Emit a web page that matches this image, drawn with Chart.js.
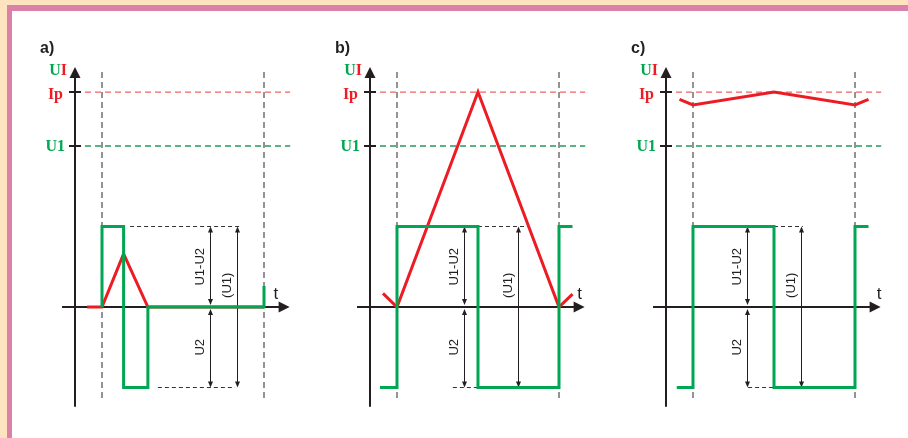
<!DOCTYPE html>
<html>
<head>
<meta charset="utf-8">
<script src="https://cdn.jsdelivr.net/npm/chart.js@4.4.1/dist/chart.umd.min.js"></script>
<style>
  html, body { margin: 0; padding: 0; }
  body { width: 908px; height: 438px; background: #fde3c0; position: relative; overflow: hidden; }
  #frame { position: absolute; left: 7px; top: 5px; right: 0; bottom: 0; background: #fff;
           border-left: 5px solid #db80a8; border-top: 6px solid #db80a8; }
  canvas { position: absolute; top: 30px; }
</style>
</head>
<body>
<div id="frame"></div>
<canvas id="panelA" width="275" height="400" style="left:30px"></canvas>
<canvas id="panelB" width="275" height="400" style="left:325px"></canvas>
<canvas id="panelC" width="275" height="400" style="left:621px"></canvas>
<script>
// Reference levels (U1 = 2, so the square wave swings between +1 and -1)
const levelNames = ['Ip', 'U1'];
const levelValues = [2.67, 2];
const switchTimes = [1, 7];

// a) short pulse
const timeA_U = [1, 1, 1.8, 1.8, 2.7, 2.7, 7, 7];
const voltA_U = [0, 1, 1, -1, -1, 0, 0, 0.26];
const timeA_I = [0.45, 1, 1.8, 2.7, 7];
const currA_I = [0, 0, 0.66, 0, 0];

// b) boundary mode
const timeB_U = [0.37, 1, 1, 4, 4, 7, 7, 7.5];
const voltB_U = [-1, -1, 1, 1, -1, -1, 1, 1];
const timeB_I = [0.48, 1, 4, 7, 7.5];
const currB_I = [0.17, 0, 2.67, 0, 0.16];

// c) continuous current
const timeC_U = [0.4, 1, 1, 4, 4, 7, 7, 7.5];
const voltC_U = [-1, -1, 1, 1, -1, -1, 1, 1];
const timeC_I = [0.5, 1, 4, 7, 7.5];
const currC_I = [2.58, 2.51, 2.67, 2.51, 2.58];

const dimLabels = ['U1-U2', 'U2', '(U1)'];

const GREEN = '#00a651', RED = '#ed1c24', INK = '#231f20';

function pts(ts, vs) { return ts.map((t, i) => ({ x: t, y: vs[i] })); }

function arrowHead(ctx, x, y, dir, len, half) {
  // dir: 'up' | 'down' | 'right'
  ctx.beginPath();
  if (dir === 'up') { ctx.moveTo(x, y); ctx.lineTo(x - half, y + len); ctx.lineTo(x + half, y + len); }
  else if (dir === 'down') { ctx.moveTo(x, y); ctx.lineTo(x - half, y - len); ctx.lineTo(x + half, y - len); }
  else { ctx.moveTo(x, y); ctx.lineTo(x - len, y - half); ctx.lineTo(x - len, y + half); }
  ctx.closePath();
  ctx.fill();
}

const diagramPlugin = {
  id: 'diagram',
  beforeDatasetsDraw(chart) {
    const { ctx, scales: { x, y } } = chart;
    const d = chart.options.plugins.diagram;
    const X = v => x.getPixelForValue(v), Y = v => y.getPixelForValue(v);
    ctx.save();

    // reference levels
    ctx.lineWidth = 1.3;
    ctx.setLineDash([6, 4]);
    ['#ee6464', '#259a58'].forEach((c, i) => {
      ctx.strokeStyle = c;
      ctx.beginPath();
      ctx.moveTo(X(0), Y(levelValues[i]));
      ctx.lineTo(X(7.97), Y(levelValues[i]));
      ctx.stroke();
    });

    // switching instants
    ctx.strokeStyle = '#666';
    ctx.lineWidth = 1.4;
    ctx.setLineDash([6, 4]);
    switchTimes.forEach(t => {
      ctx.beginPath();
      ctx.moveTo(X(t), Y(2.92));
      ctx.lineTo(X(t), Y(-1.13));
      ctx.stroke();
    });

    // dimension extension lines
    ctx.strokeStyle = '#333';
    ctx.lineWidth = 1;
    ctx.setLineDash([4, 3]);
    ctx.beginPath();
    ctx.moveTo(X(d.topDash[0]), Y(1)); ctx.lineTo(X(d.topDash[1]), Y(1));
    ctx.moveTo(X(d.botDash[0]), Y(-1)); ctx.lineTo(X(d.botDash[1]), Y(-1));
    ctx.stroke();
    ctx.setLineDash([]);

    // dimension arrows
    ctx.fillStyle = INK;
    ctx.strokeStyle = INK;
    ctx.lineWidth = 1;
    const ax1 = Math.round(X(d.arrow1)) + 0.5, ax2 = Math.round(X(d.arrow2)) + 0.5;
    const y1 = Y(1), y0 = Y(0), ym = Y(-1);
    ctx.beginPath();
    ctx.moveTo(ax1, y1 + 2); ctx.lineTo(ax1, y0 - 3);
    ctx.moveTo(ax1, y0 + 3); ctx.lineTo(ax1, ym - 2);
    ctx.moveTo(ax2, y1 + 2); ctx.lineTo(ax2, ym - 2);
    ctx.stroke();
    arrowHead(ctx, ax1, y1, 'up', 6, 2.5);
    arrowHead(ctx, ax1, y0 - 2, 'down', 6, 2.5);
    arrowHead(ctx, ax1, y0 + 2, 'up', 6, 2.5);
    arrowHead(ctx, ax1, ym, 'down', 6, 2.5);
    arrowHead(ctx, ax2, y1, 'up', 6, 2.5);
    arrowHead(ctx, ax2, ym, 'down', 6, 2.5);

    // axes
    ctx.lineWidth = 2;
    const x0 = X(0);
    const yTip = Y(2.98), tTip = X(7.95);
    ctx.beginPath();
    ctx.moveTo(x0, Y(-1.24)); ctx.lineTo(x0, yTip + 8);
    ctx.moveTo(X(-0.48), y0); ctx.lineTo(tTip - 8, y0);
    levelValues.forEach(v => { ctx.moveTo(x0 - 6, Y(v)); ctx.lineTo(x0 + 6, Y(v)); });
    ctx.stroke();
    arrowHead(ctx, x0, yTip, 'up', 11, 5.5);
    arrowHead(ctx, tTip, y0, 'right', 11, 5.5);
    ctx.restore();
  },
  afterDatasetsDraw(chart) {
    const { ctx, scales: { x, y } } = chart;
    const d = chart.options.plugins.diagram;
    const X = v => x.getPixelForValue(v), Y = v => y.getPixelForValue(v);
    const x0 = X(0), yTip = Y(2.98), y0 = Y(0);
    ctx.save();

    // panel letter
    ctx.fillStyle = INK;
    ctx.font = 'bold 16px "Liberation Sans Narrow", "Liberation Sans", Arial, sans-serif';
    ctx.textBaseline = 'alphabetic';
    ctx.textAlign = 'left';
    ctx.fillText(d.letter, x0 - 35, yTip - 14);

    // axis name "UI"
    ctx.font = 'bold 16px "Liberation Serif", "DejaVu Serif", serif';
    const wU = ctx.measureText('U').width, wI = ctx.measureText('I').width;
    const right = x0 - 8;
    ctx.fillStyle = GREEN; ctx.fillText('U', right - wU - wI, yTip + 8);
    ctx.fillStyle = RED; ctx.fillText('I', right - wI, yTip + 8);

    // level names
    ctx.textAlign = 'right';
    ctx.textBaseline = 'middle';
    ctx.fillStyle = RED; ctx.fillText(levelNames[0], x0 - 12, Y(levelValues[0]) + 3);
    ctx.fillStyle = GREEN; ctx.fillText(levelNames[1], x0 - 10, Y(levelValues[1]) + 1);

    // time axis name
    ctx.fillStyle = INK;
    ctx.textAlign = 'center';
    ctx.textBaseline = 'alphabetic';
    ctx.font = '17px "Liberation Sans", Arial, sans-serif';
    ctx.fillText('t', X(d.tLabel), y0 - 8);

    // rotated dimension labels
    ctx.font = '13px "Liberation Sans", Arial, sans-serif';
    ctx.textBaseline = 'middle';
    const rot = (txt, px, py) => {
      ctx.save(); ctx.translate(px, py); ctx.rotate(-Math.PI / 2); ctx.fillText(txt, 0, 0); ctx.restore();
    };
    rot(dimLabels[0], X(d.arrow1) - 10, Y(0.5));
    rot(dimLabels[1], X(d.arrow1) - 10, Y(-0.5));
    rot(dimLabels[2], X(d.arrow2) - 10, Y(0.27));
    ctx.restore();
  }
};

function makePanel(id, letter, tU, vU, tI, vI, dims) {
  return new Chart(document.getElementById(id), {
    type: 'line',
    data: {
      datasets: [
        { data: pts(tU, vU), borderColor: GREEN, borderWidth: 3, fill: false },
        { data: pts(tI, vI), borderColor: RED, borderWidth: 3, fill: false }
      ]
    },
    options: {
      responsive: false,
      animation: false,
      events: [],
      layout: { padding: 0 },
      elements: {
        point: { radius: 0, hoverRadius: 0 },
        line: { tension: 0, borderJoinStyle: 'miter', borderCapStyle: 'butt' }
      },
      scales: {
        x: { type: 'linear', display: false, min: -45 / 27, max: 230 / 27 },
        y: { type: 'linear', display: false, min: 3.441 - 400 / 80.5, max: 3.441 }
      },
      plugins: {
        legend: { display: false },
        tooltip: { enabled: false },
        diagram: Object.assign({ letter }, dims)
      }
    },
    plugins: [diagramPlugin]
  });
}

makePanel('panelA', 'a)', timeA_U, voltA_U, timeA_I, currA_I,
  { arrow1: 5.0, arrow2: 6.0, topDash: [2.04, 6.1], botDash: [3.07, 5.93], tLabel: 7.44 });
makePanel('panelB', 'b)', timeB_U, voltB_U, timeB_I, currB_I,
  { arrow1: 3.48, arrow2: 5.48, topDash: [4.0, 5.85], botDash: [3.07, 4.0], tLabel: 7.76 });
makePanel('panelC', 'c)', timeC_U, voltC_U, timeC_I, currC_I,
  { arrow1: 3.0, arrow2: 5.0, topDash: [4.0, 5.07], botDash: [3.04, 4.0], tLabel: 7.89 });
</script>
</body>
</html>
